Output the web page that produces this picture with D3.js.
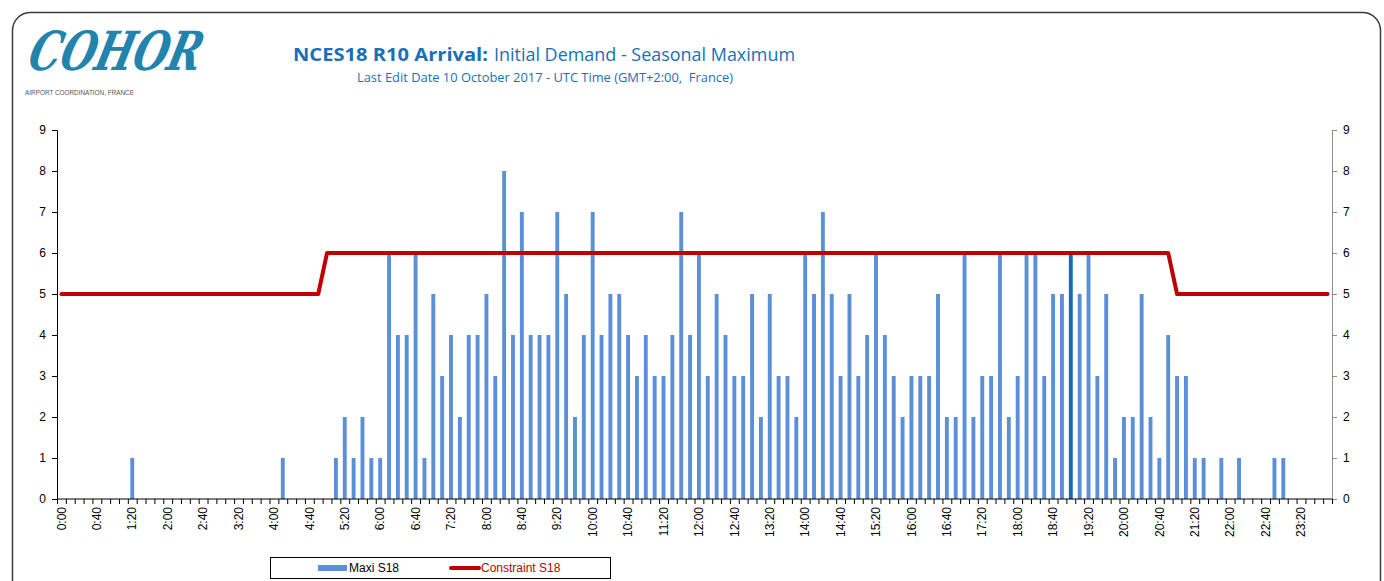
<!DOCTYPE html>
<html>
<head>
<meta charset="utf-8">
<script src="https://cdn.jsdelivr.net/npm/d3@7/dist/d3.min.js"></script>
<style>
  body { margin: 0; background: #fff; }
  svg text { font-family: "Liberation Sans", Arial, sans-serif; }
</style>
</head>
<body>
<div id="chart"></div>
<script>
// 10-minute slots over the day, 0:00 .. 23:50
var slots = d3.range(144).map(function(i) { return Math.floor(i / 6) + ":" + d3.format("02")((i % 6) * 10); });

// Maxi S18 - arrivals per 10 min slot
var maxiS18 = [
  0,0,0,0,0,0,0,0,1,0,0,0,0,0,0,0,0,0,0,0,0,0,0,0,
  0,1,0,0,0,0,0,1,2,1,2,1,1,6,4,4,6,1,5,3,4,2,4,4,
  5,3,8,4,7,4,4,4,7,5,2,4,7,4,5,5,4,3,4,3,3,4,7,4,
  6,3,5,4,3,3,5,2,5,3,3,2,6,5,7,5,3,5,3,4,6,4,3,2,
  3,3,3,5,2,2,6,2,3,3,6,2,3,6,6,3,5,5,6,5,6,3,5,1,
  2,2,5,2,1,4,3,3,1,1,0,1,0,1,0,0,0,1,1,0,0,0,0,0
];

// Constraint S18 per slot
var constraintS18 = [
  5,5,5,5,5,5,5,5,5,5,5,5,5,5,5,5,5,5,5,5,5,5,5,5,
  5,5,5,5,5,5,6,6,6,6,6,6,6,6,6,6,6,6,6,6,6,6,6,6,
  6,6,6,6,6,6,6,6,6,6,6,6,6,6,6,6,6,6,6,6,6,6,6,6,
  6,6,6,6,6,6,6,6,6,6,6,6,6,6,6,6,6,6,6,6,6,6,6,6,
  6,6,6,6,6,6,6,6,6,6,6,6,6,6,6,6,6,6,6,6,6,6,6,6,
  6,6,6,6,6,6,5,5,5,5,5,5,5,5,5,5,5,5,5,5,5,5,5,5
];

var highlightSlots = ["19:00"];
var yTicks = [0,1,2,3,4,5,6,7,8,9];
var xLabels = slots.filter(function(d, i) { return i % 4 === 0; });

var W = 1384, H = 581;
var svg = d3.select("#chart").append("svg").attr("width", W).attr("height", H);

// frame
svg.append("rect").attr("x", 12.5).attr("y", 12.5).attr("width", 1368).attr("height", 600)
  .attr("rx", 18).attr("fill", "#fff").attr("stroke", "#3a3a3a").attr("stroke-width", 1.5);

// logo (brush-like slanted lettering)
svg.append("text").attr("transform", "translate(26,70) skewX(-14)")
  .style("font-family", "'DejaVu Serif', serif").style("font-style", "italic").style("font-weight", "bold")
  .style("font-size", "54px").attr("fill", "#2283ad")
  .attr("textLength", 172).attr("lengthAdjust", "spacingAndGlyphs").text("COHOR");
svg.append("text").attr("x", 25).attr("y", 95).style("font-size", "6.5px").attr("fill", "#555")
  .attr("textLength", 109).attr("lengthAdjust", "spacingAndGlyphs").text("AIRPORT COORDINATION, FRANCE");

// titles
svg.append("text").attr("x", 293).attr("y", 61).style("font-family", "'Open Sans', sans-serif")
  .style("font-weight", "bold").style("font-size", "18px").attr("fill", "#1a6fb8")
  .attr("textLength", 195).attr("lengthAdjust", "spacingAndGlyphs").text("NCES18 R10 Arrival:");
svg.append("text").attr("x", 494).attr("y", 61).style("font-family", "'Open Sans', sans-serif")
  .style("font-size", "18px").attr("fill", "#1a6fb8")
  .attr("textLength", 301).attr("lengthAdjust", "spacingAndGlyphs").text("Initial Demand - Seasonal Maximum");
svg.append("text").attr("x", 357).attr("y", 82).style("font-family", "'Open Sans', sans-serif")
  .style("font-size", "12px").attr("fill", "#1a6fb8").attr("xml:space", "preserve")
  .attr("textLength", 376).attr("lengthAdjust", "spacingAndGlyphs").text("Last Edit Date 10 October 2017 - UTC Time (GMT+2:00,  France)");

// plot area
var plotLeft = 57, plotRight = 1332, plotTop = 130, plotBottom = 499;
var x = d3.scaleBand().domain(slots).range([plotLeft, plotRight]).padding(0);
var xEdge = d3.scaleLinear().domain([0, 144]).range([plotLeft, plotRight]);
var y = d3.scaleLinear().domain([0, 9]).range([plotBottom, plotTop]);

// bars
svg.append("g").selectAll("rect").data(maxiS18).enter().append("rect")
  .attr("x", function(d, i) { return x(slots[i]) + x.bandwidth() * 0.28; })
  .attr("width", x.bandwidth() * 0.44)
  .attr("y", function(d) { return y(d); })
  .attr("height", function(d) { return plotBottom - y(d); })
  .attr("fill", function(d, i) { return highlightSlots.indexOf(slots[i]) >= 0 ? "#0a6fc2" : "#5b8fd8"; });

// constraint line
var line = d3.line()
  .x(function(d, i) { return x(slots[i]) + x.bandwidth() / 2; })
  .y(function(d) { return y(d); });
svg.append("path").datum(constraintS18).attr("d", line)
  .attr("fill", "none").attr("stroke", "#c00000").attr("stroke-width", 4)
  .attr("stroke-linejoin", "round").attr("stroke-linecap", "round");

// left axis
var yl = svg.append("g").attr("transform", "translate(" + plotLeft + ",0)")
  .call(d3.axisLeft(y).tickValues(yTicks).tickSize(5).tickPadding(6));
yl.selectAll("text").style("font-size", "12px").attr("fill", "#000");
yl.selectAll("line,path").attr("stroke", "#000");

// right axis
var yr = svg.append("g").attr("transform", "translate(" + plotRight + ",0)")
  .call(d3.axisRight(y).tickValues(yTicks).tickSize(5).tickPadding(6));
yr.selectAll("text").style("font-size", "12px").attr("fill", "#000");
yr.selectAll("line,path").attr("stroke", "#8c8c8c");

// x axis tick marks at slot edges
var xt = svg.append("g").attr("transform", "translate(0," + plotBottom + ")")
  .call(d3.axisBottom(xEdge).tickValues(d3.range(145)).tickFormat("").tickSize(5));
xt.selectAll("line,path").attr("stroke", "#000");
xt.select("path").attr("d", "M" + plotLeft + ",0H" + plotRight);

// x labels
var xl = svg.append("g").attr("transform", "translate(0," + plotBottom + ")")
  .call(d3.axisBottom(x).tickValues(xLabels).tickSize(0));
xl.select("path").remove();
xl.selectAll("text").style("font-size", "12px").attr("fill", "#000")
  .attr("transform", "rotate(-90)").attr("text-anchor", "end")
  .attr("x", -8).attr("y", 0).attr("dy", "0.35em");

// legend
var lg = svg.append("g");
lg.append("rect").attr("x", 270.5).attr("y", 557.5).attr("width", 340).attr("height", 21)
  .attr("fill", "#fff").attr("stroke", "#000").attr("stroke-width", 1);
lg.append("rect").attr("x", 318).attr("y", 565).attr("width", 29).attr("height", 6).attr("fill", "#5b8fd8");
lg.append("text").attr("x", 349).attr("y", 572).style("font-size", "12px").attr("fill", "#000").text("Maxi S18");
lg.append("line").attr("x1", 451).attr("x2", 479).attr("y1", 568).attr("y2", 568)
  .attr("stroke", "#c00000").attr("stroke-width", 4).attr("stroke-linecap", "round");
lg.append("text").attr("x", 481).attr("y", 572).style("font-size", "12px").attr("fill", "#c00000").text("Constraint S18");
</script>
</body>
</html>
